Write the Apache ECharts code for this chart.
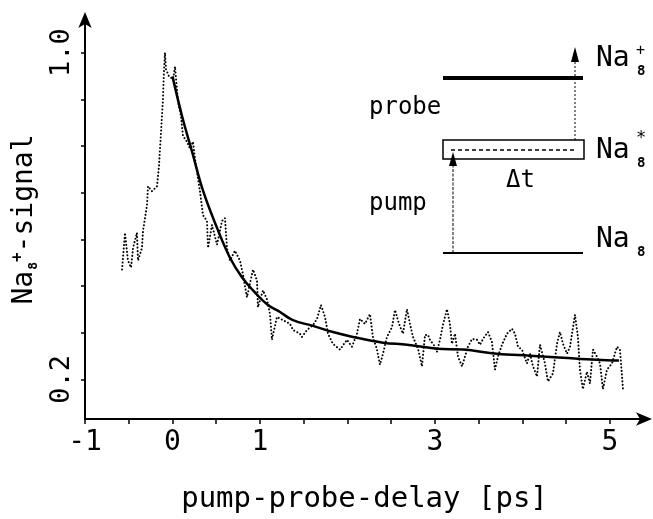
<!DOCTYPE html>
<html>
<head>
<meta charset="utf-8">
<script src="https://cdn.jsdelivr.net/npm/echarts@6/dist/echarts.min.js"></script>
<style>
html,body{margin:0;padding:0;background:#fff;}
#chart{width:653px;height:519px;}
</style>
</head>
<body>
<div id="chart"></div>
<script>
// Raw (dotted) pump-probe transient
const rawX = [-0.577,-0.543,-0.509,-0.474,-0.451,-0.406,-0.394,-0.349,-0.337,-0.291,-0.280,-0.234,-0.177,-0.154,-0.131,-0.109,-0.097,-0.086,-0.074,-0.040,
  0.006,0.029,0.051,0.063,0.097,0.120,0.166,0.200,0.234,0.257,0.280,0.314,0.349,0.394,0.406,0.451,0.509,0.566,0.600,0.623,
  0.657,0.714,0.771,0.806,0.851,0.920,0.966,0.977,1.034,1.080,1.114,1.137,1.194,1.263,1.343,1.377,1.457,1.480,1.537,1.606,
  1.651,1.697,1.743,1.777,1.834,1.914,1.994,2.051,2.109,2.143,2.200,2.257,2.291,2.337,2.371,2.406,2.451,2.509,2.543,2.589,
  2.634,2.680,2.714,2.749,2.806,2.851,2.886,2.920,2.943,3.000,3.023,3.057,3.091,3.137,3.171,3.194,3.229,3.263,3.309,3.343,
  3.377,3.423,3.480,3.514,3.549,3.606,3.651,3.686,3.720,3.766,3.823,3.880,3.914,3.949,3.994,4.051,4.086,4.120,4.166,4.200,
  4.257,4.291,4.349,4.394,4.429,4.463,4.509,4.543,4.600,4.634,4.657,4.691,4.737,4.771,4.806,4.851,4.886,4.920,4.966,5.023,
  5.080,5.114,5.149];
const rawY = [0.469,0.559,0.491,0.474,0.522,0.559,0.491,0.522,0.564,0.627,0.673,0.661,0.673,0.724,0.806,0.886,0.959,1.000,0.959,0.942,
  0.935,0.966,0.910,0.879,0.845,0.796,0.782,0.765,0.782,0.741,0.709,0.661,0.602,0.588,0.522,0.578,0.530,0.588,0.595,0.522,
  0.491,0.515,0.491,0.457,0.401,0.469,0.442,0.377,0.418,0.396,0.360,0.297,0.353,0.345,0.336,0.321,0.312,0.304,0.321,0.333,
  0.348,0.382,0.353,0.312,0.287,0.273,0.297,0.280,0.312,0.348,0.336,0.360,0.304,0.273,0.236,0.263,0.304,0.328,0.370,0.336,
  0.312,0.372,0.336,0.304,0.275,0.232,0.309,0.309,0.297,0.280,0.268,0.297,0.333,0.372,0.336,0.287,0.312,0.256,0.232,0.256,
  0.280,0.299,0.297,0.285,0.299,0.316,0.292,0.224,0.256,0.285,0.312,0.324,0.312,0.280,0.273,0.239,0.263,0.232,0.207,0.285,
  0.239,0.195,0.215,0.287,0.316,0.287,0.263,0.280,0.358,0.304,0.224,0.176,0.219,0.190,0.273,0.256,0.239,0.176,0.224,0.239,
  0.280,0.273,0.176];
// Fitted decay (solid)
const fitX = [0.000,0.109,0.223,0.349,0.509,0.657,0.794,0.920,1.080,1.229,1.377,1.606,1.834,2.063,2.406,2.680,3.023,3.320,3.709,4.086,4.463,4.851,5.103];
const fitY = [0.942,0.845,0.758,0.662,0.571,0.498,0.450,0.418,0.384,0.365,0.345,0.331,0.316,0.304,0.290,0.285,0.275,0.273,0.263,0.258,0.253,0.248,0.246];
// Axis ticks and labels
const xTicks = [-1,-0.5,0,0.5,1,1.5,2,2.5,3,3.5,4,4.5,5];
const xLabels = [-1,0,1,3,5];
const yTicks = [0.2,0.3143,0.4286,0.5429,0.6571,0.7714,0.8857,1.0];
const yLabels = [0.2,1.0];

const MONO = "'DejaVu Sans Mono', monospace";
const rawData = rawX.map((x,i)=>[x,rawY[i]]);
const fitData = fitX.map((x,i)=>[x,fitY[i]]);

const chart = echarts.init(document.getElementById('chart'), null, {renderer:'canvas'});
const txt = (t, x, y, size, align, weight) => ({type:'text', x:x, y:y, silent:true,
  style:{text:t, fill:'#000', font: (weight||'normal')+' '+size+"px "+MONO, textAlign: align||'left', textVerticalAlign:'middle'}});
chart.setOption({
  animation:false,
  backgroundColor:'#fff',
  grid:{left:85,right:9,top:20,bottom:96},
  xAxis:{
    type:'value', min:-1, max:5.389,
    axisLine:{onZero:false, symbol:['none','arrow'], symbolSize:[10,16], symbolOffset:[0,8], lineStyle:{color:'#000', width:2}},
    axisTick:{customValues:xTicks, length:5, lineStyle:{color:'#000', width:1.5}},
    axisLabel:{customValues:xLabels, color:'#000', fontFamily:MONO, fontSize:28, margin:10},
    splitLine:{show:false},
    name:'pump-probe-delay [ps]', nameLocation:'middle', nameGap:66,
    nameTextStyle:{color:'#000', fontFamily:MONO, fontSize:29}
  },
  yAxis:{
    type:'value', min:0.10303, max:1.08,
    axisLine:{onZero:false, symbol:['none','arrow'], symbolSize:[10,16], symbolOffset:[0,8], lineStyle:{color:'#000', width:2}},
    axisTick:{customValues:yTicks, length:4, lineStyle:{color:'#000', width:1.5}},
    axisLabel:{customValues:yLabels, rotate:90, color:'#000', fontFamily:MONO, fontSize:27, margin:10,
      formatter:v=>v.toFixed(1)},
    splitLine:{show:false},
    name:'{a|Na}{s|8}{p|+}{a|-signal}', nameLocation:'middle', nameGap:44, nameRotate:90,
    nameTextStyle:{color:'#000', fontFamily:MONO, fontSize:28,
      rich:{
        a:{fontFamily:MONO, fontSize:28, color:'#000', lineHeight:30},
        s:{fontFamily:MONO, fontSize:13, fontWeight:'bold', color:'#000', lineHeight:30, verticalAlign:'bottom', padding:[0,0,0,1]},
        p:{fontFamily:MONO, fontSize:16, fontWeight:'bold', color:'#000', lineHeight:30, verticalAlign:'top', padding:[0,0,0,0]}
      }}
  },
  series:[
    {type:'line', data:rawData, showSymbol:false, smooth:false,
      lineStyle:{color:'#000', width:2, type:[0.1,3.4], cap:'round'}, z:2},
    {type:'line', data:fitData, showSymbol:false, smooth:0.4,
      lineStyle:{color:'#000', width:2.5}, z:3}
  ],
  graphic:[
    {type:'line', silent:true, shape:{x1:443,y1:78,x2:583,y2:78}, style:{stroke:'#000', lineWidth:4}},
    {type:'line', silent:true, shape:{x1:575,y1:140,x2:575,y2:60}, style:{stroke:'#000', lineWidth:1, lineDash:[2,2]}},
    {type:'polygon', silent:true, shape:{points:[[571,62],[579,62],[575,47]]}, style:{fill:'#000'}},
    {type:'rect', silent:true, shape:{x:443,y:140,width:141,height:19}, style:{fill:'none', stroke:'#000', lineWidth:1.5}},
    {type:'line', silent:true, shape:{x1:451,y1:150,x2:576,y2:150}, style:{stroke:'#000', lineWidth:1.5, lineDash:[4,3]}},
    {type:'line', silent:true, shape:{x1:453,y1:253,x2:453,y2:164}, style:{stroke:'#000', lineWidth:1, lineDash:[3,1.5]}},
    {type:'polygon', silent:true, shape:{points:[[449,166],[457,166],[453,152]]}, style:{fill:'#000'}},
    {type:'line', silent:true, shape:{x1:443,y1:253,x2:583,y2:253}, style:{stroke:'#000', lineWidth:2}},
    txt('Na', 596, 59, 28), txt('8', 637, 71, 14, 'left', 'bold'), txt('+', 636, 51, 15),
    txt('Na', 596, 151, 28), txt('8', 637, 163, 14, 'left', 'bold'), txt('*', 636, 139, 17),
    txt('Na', 596, 240, 28), txt('8', 637, 252, 14, 'left', 'bold'),
    txt('probe', 369, 108, 24),
    txt('pump', 369, 204, 24),
    txt('\u0394t', 506, 181, 24)
  ]
});
</script>
</body>
</html>
